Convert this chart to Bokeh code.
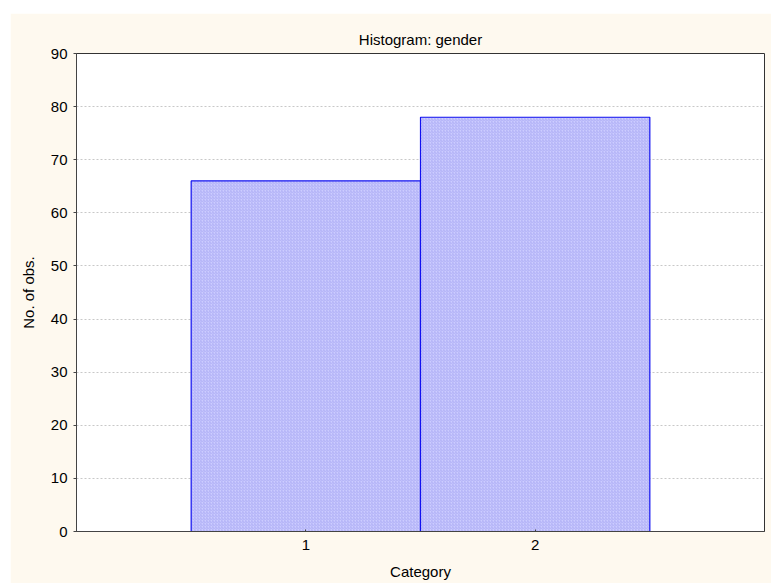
from bokeh.plotting import figure
from bokeh.models import ColumnDataSource, FixedTicker, Range1d
from bokeh.embed import file_html
from bokeh.resources import INLINE

categories = [1, 2]
counts = [66, 78]
y_ticks = [0, 10, 20, 30, 40, 50, 60, 70, 80, 90]

bin_width = 1.0
src = ColumnDataSource(dict(
    left=[c - bin_width / 2 for c in categories],
    right=[c + bin_width / 2 for c in categories],
    top=counts,
    bottom=[0] * len(counts),
))

BG = "#FEF9EF"
FONT = "Liberation Sans"

p = figure(width=761, height=570, output_backend="svg", toolbar_location=None,
           x_range=Range1d(0, 3), y_range=Range1d(0, 90),
           title="Histogram: gender",
           min_border_left=66, min_border_right=7, min_border_top=40, min_border_bottom=52)
p.margin = (13, 0, 0, 10)

p.background_fill_color = "white"
p.border_fill_color = BG
p.outline_line_color = "#333333"
p.outline_line_width = 1

p.title.align = "center"
p.title.text_font = FONT
p.title.text_font_size = "15px"
p.title.text_font_style = "normal"
p.title.text_color = "black"
p.title.offset = 0
p.title.standoff = 12

p.quad(left="left", right="right", top="top", bottom="bottom", source=src,
       fill_color="#CCCCFF", line_color="#1010F0", line_width=1.2,
       hatch_pattern="/", hatch_color="#B0B0F6", hatch_scale=3, hatch_weight=1, hatch_alpha=1.0)

p.xaxis.ticker = FixedTicker(ticks=categories)
p.yaxis.ticker = FixedTicker(ticks=y_ticks)
p.xaxis.axis_label = "Category"
p.yaxis.axis_label = "No. of obs."

for ax in (p.xaxis[0], p.yaxis[0]):
    ax.axis_line_color = "#444444"
    ax.major_tick_line_color = "#444444"
    ax.minor_tick_line_color = None
    ax.major_label_text_font = FONT
    ax.major_label_text_font_size = "15px"
    ax.major_label_text_color = "black"
    ax.axis_label_text_font = FONT
    ax.axis_label_text_font_size = "15px"
    ax.axis_label_text_font_style = "normal"
    ax.axis_label_text_color = "black"

p.xaxis.major_tick_in = 2
p.xaxis.major_tick_out = 0
p.xaxis.major_label_standoff = 8
p.xaxis.axis_label_standoff = 10
p.yaxis.major_tick_in = 0
p.yaxis.major_tick_out = 3
p.yaxis.major_label_standoff = 6
p.yaxis.axis_label_standoff = 11

p.xgrid.grid_line_color = None
p.ygrid.ticker = FixedTicker(ticks=y_ticks[1:-1])
p.ygrid.grid_line_color = "#C8C8C8"
p.ygrid.grid_line_dash = "2 2"
p.ygrid.grid_line_width = 1

html = file_html(p, INLINE)
html = html.replace("<head>", "<head><style>html,body{overflow:hidden;}</style>", 1)
open("out.html", "w").write(html)
